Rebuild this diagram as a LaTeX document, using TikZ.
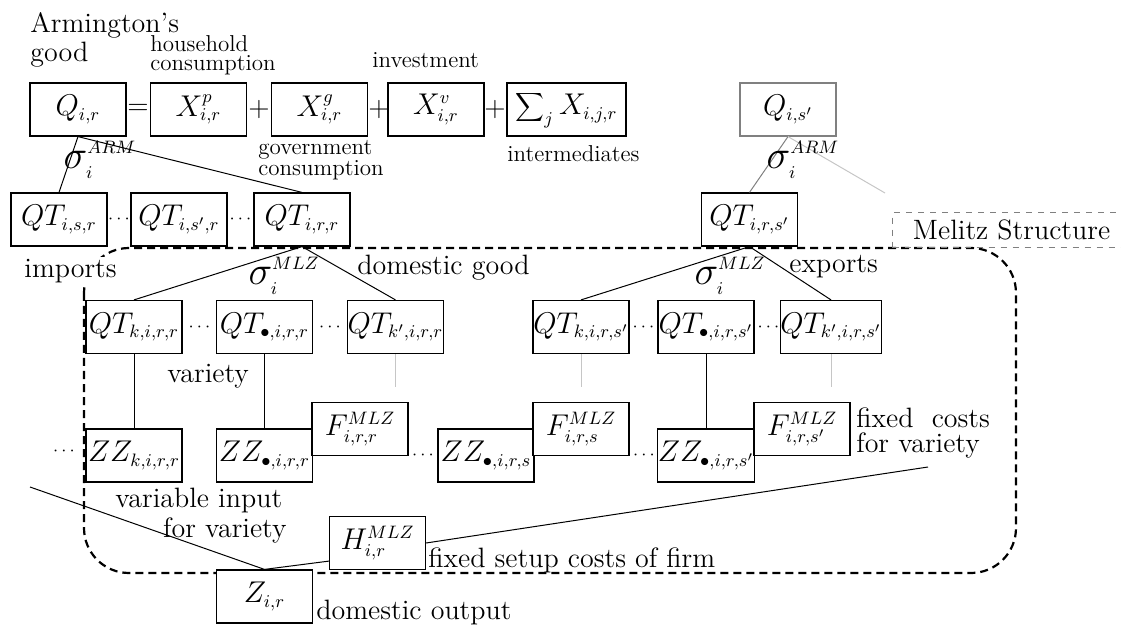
\documentclass[tikz,border=0pt]{standalone}
\usepackage{fix-cm}
\usetikzlibrary{calc}
\DeclareMathSizes{15}{15}{9}{7}
\DeclareMathSizes{20}{20}{9}{7}
\begin{document}
\begin{tikzpicture}[x=0.5pt,y=-0.5pt,
  box/.style={draw, fill=white, line width=0.6pt, inner sep=0pt, minimum width=48pt, minimum height=26.5pt, font=\fontsize{15}{16}\selectfont},
  gbox/.style={box, draw=gray},
  lbl/.style={inner sep=0pt, anchor=base west, font=\fontsize{14}{16}\selectfont},
  slbl/.style={lbl, font=\fontsize{11.5}{13}\selectfont},
  sig/.style={inner sep=0pt, font=\fontsize{20}{20}\selectfont},
  opn/.style={inner sep=0pt, font=\fontsize{14}{16}\selectfont},
  dotsn/.style={inner sep=0pt, font=\fontsize{9}{10}\selectfont},
  conn/.style={line width=0.5pt},
  gconn/.style={conn, draw=gray},
  fconn/.style={conn, draw=gray!45},
]
\useasboundingbox (0,0) rectangle (1121,626);

% Melitz structure frame
\draw[line width=1.1pt, dash pattern=on 4pt off 2.5pt, rounded corners=22.5pt] (84,248) rectangle (1016,573);
\node[draw=gray, dashed, line width=0.6pt, minimum width=119pt, minimum height=17.5pt, inner sep=0pt, anchor=north west, font=\fontsize{14}{16}\selectfont] (melitz) at (892,212) {Melitz Structure};

% row 1
\node[box] (Q) at (78,109.5) {$Q_{i,r}$};
\node[box] (Xp) at (198.5,109.5) {$X_{i,r}^{p}$};
\node[box] (Xg) at (319.5,109.5) {$X_{i,r}^{g}$};
\node[box] (Xv) at (436,109.5) {$X_{i,r}^{v}$};
\node[box, minimum width=59.5pt] (Xs) at (566.5,109.5) {$\displaystyle\sum\nolimits_j X_{i,j,r}$};
\node[gbox] (Qs) at (788,109.5) {$Q_{i,s'}$};
\node[opn] (eq) at (138,109.5) {$=$};
\node[opn] (p1) at (259,109.5) {$+$};
\node[opn] (p2) at (379,109.5) {$+$};
\node[opn] (p3) at (495,109.5) {$+$};

% row 2
\node[box] (QTisr) at (59,219.5) {$QT_{i,s,r}$};
\node[box] (QTispr) at (179,219.5) {$QT_{i,s',r}$};
\node[box] (QTirr) at (302,219.5) {$QT_{i,r,r}$};
\node[box] (QTirsp) at (749.5,219.5) {$QT_{i,r,s'}$};
\node[dotsn] (d1) at (119,219.5) {$\cdots$};
\node[dotsn] (d2) at (240.5,219.5) {$\cdots$};

% row 3
\node[box] (QTkirr) at (134,327) {$QT_{k,i,r,r}$};
\node[box] (QTbirr) at (264.5,327) {$QT_{\bullet,i,r,r}$};
\node[box] (QTkpirr) at (395.5,327) {$QT_{k',i,r,r}$};
\node[box] (QTkirs) at (581,327) {$QT_{k,i,r,s'}$};
\node[box] (QTbirs) at (706,327) {$QT_{\bullet,i,r,s'}$};
\node[box] (QTkpirs) at (831,327) {$QT_{k',i,r,s'}$};
\node[dotsn] (d3) at (199.5,327) {$\cdots$};
\node[dotsn] (d4) at (330,327) {$\cdots$};
\node[dotsn] (d5) at (643.5,327) {$\cdots$};
\node[dotsn] (d6) at (768.5,327) {$\cdots$};

% row 4
\node[box] (ZZkirr) at (134,455.5) {$ZZ_{k,i,r,r}$};
\node[box] (ZZbirr) at (264.5,455.5) {$ZZ_{\bullet,i,r,r}$};
\node[box] (Firr) at (360,429) {$F_{i,r,r}^{MLZ}$};
\node[box] (ZZbirs) at (486,455.5) {$ZZ_{\bullet,i,r,s}$};
\node[box] (Firs) at (581,429) {$F_{i,r,s}^{MLZ}$};
\node[box] (ZZbirsp) at (706,455.5) {$ZZ_{\bullet,i,r,s'}$};
\node[box] (Firsp) at (802,429) {$F_{i,r,s'}^{MLZ}$};
\node[dotsn] (d7) at (64,451) {$\cdots$};
\node[dotsn] (d8) at (423,455.5) {$\cdots$};
\node[dotsn] (d9) at (644,455.5) {$\cdots$};

% bottom
\node[box] (H) at (377.5,543) {$H_{i,r}^{MLZ}$};
\node[box] (Z) at (264.5,596.5) {$Z_{i,r}$};

% free ends
\coordinate (fadeA) at (885,193);
\coordinate (v1) at (395.5,387);
\coordinate (v2) at (581,387);
\coordinate (v3) at (831,387);
\coordinate (zl) at (30,487);
\coordinate (fr) at (928,467);
\coordinate (hl) at ($(H.south west)+(0,-9)$);

% connectors
\draw[conn] (Q.south) -- (QTisr.north);
\draw[conn] (Q.south) -- (QTirr.north);
\draw[gconn] (Qs.south) -- (QTirsp.north);
\draw[fconn] (Qs.south) -- (fadeA);
\draw[conn] (QTirr.south) -- (QTkirr.north);
\draw[conn] (QTirr.south) -- (QTkpirr.north);
\draw[conn] (QTirsp.south) -- (QTkirs.north);
\draw[conn] (QTirsp.south) -- (QTkpirs.north);
\draw[conn] (QTkirr.south) -- (ZZkirr.north);
\draw[conn] (QTbirr.south) -- (ZZbirr.north);
\draw[conn] (QTbirs.south) -- (ZZbirsp.north);
\draw[fconn] (QTkpirr.south) -- (v1);
\draw[fconn] (QTkirs.south) -- (v2);
\draw[fconn] (QTkpirs.south) -- (v3);
\draw[conn] (Z.north) -- (zl);
\draw[conn] (Z.north) -- (hl);
\draw[conn] (H.east) -- (fr);

% sigma labels
\node[sig] (s1) at (100,160) {$\sigma_i^{ARM}$};
\node[sig] (s2) at (803,160) {$\sigma_i^{ARM}$};
\node[sig] (s3) at (284,276) {$\sigma_i^{MLZ}$};
\node[sig] (s4) at (730,276) {$\sigma_i^{MLZ}$};

% labels
\node[lbl] (t1) at (30,33) {Armington's};
\node[lbl] (t2) at (30,62) {good};
\node[slbl] (t3) at (150,52) {household};
\node[slbl] (t4) at (150,71) {consumption};
\node[slbl] (t5) at (372,68) {investment};
\node[slbl] (t6) at (258,155) {government};
\node[slbl] (t7) at (258,176) {consumption};
\node[slbl] (t8) at (507,162) {intermediates};
\node[lbl, fill=white, inner sep=1.5pt] (t9) at (21,278) {imports};
\node[lbl] (t10) at (357,275) {domestic good};
\node[lbl] (t11) at (789,273) {exports};
\node[lbl] (t12) at (167,382) {variety};
\node[lbl] (t13) at (856,428) {fixed\ \ costs};
\node[lbl] (t14) at (856,452) {for variety};
\node[lbl] (t15) at (115,507) {variable input};
\node[lbl, anchor=base east] (t16) at (287,537) {for variety};
\node[lbl] (t17) at (428,567) {fixed setup costs of firm};
\node[lbl] (t18) at (316,619) {domestic output};
\end{tikzpicture}
\end{document}
